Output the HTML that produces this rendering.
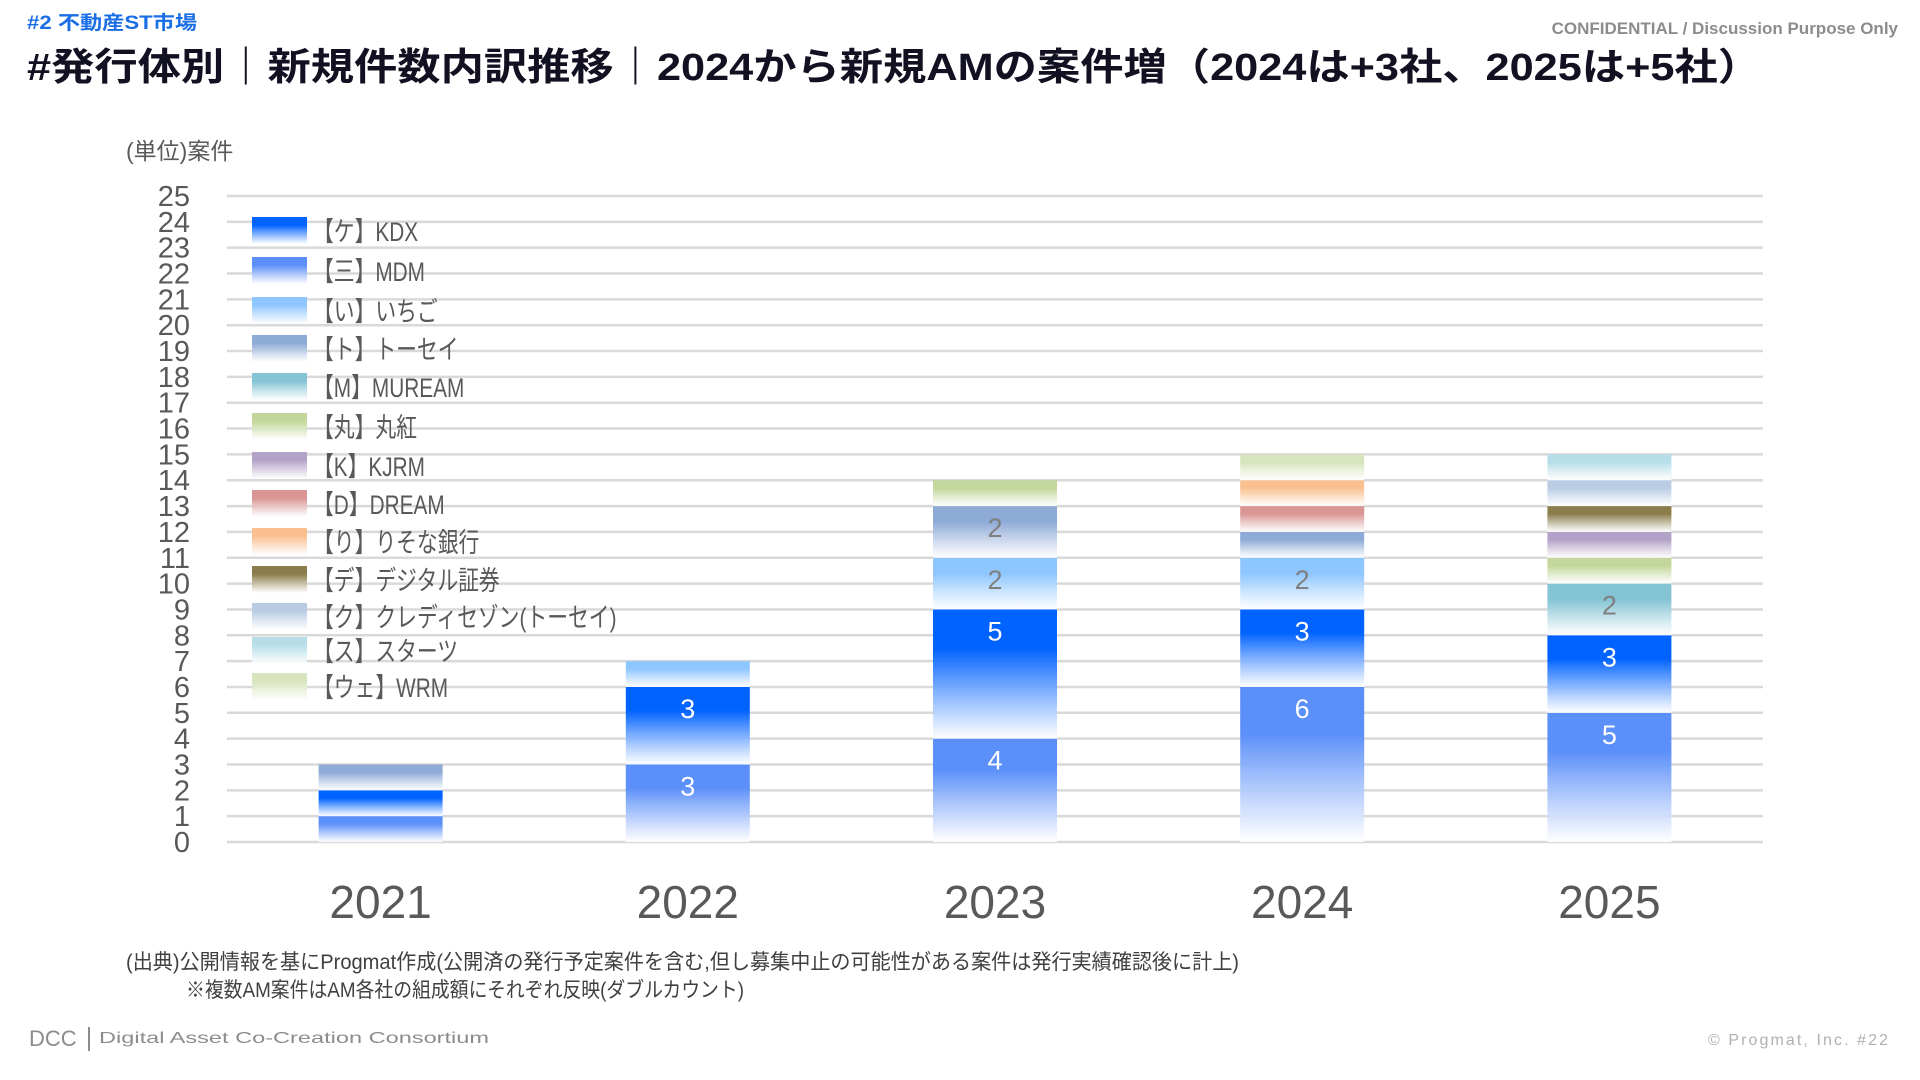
<!DOCTYPE html>
<html><head><meta charset="utf-8">
<style>
html,body{margin:0;padding:0;background:#fff;width:1920px;height:1080px;overflow:hidden}
svg{display:block}
text{font-family:"Liberation Sans","Noto Sans CJK JP",sans-serif}
</style></head>
<body>
<svg id="chart" width="1920" height="1080" viewBox="0 0 1920 1080">
<defs id="defs"></defs>
<text x="27" y="29" font-size="19" font-weight="bold" fill="#1a6ee6" textLength="170" lengthAdjust="spacingAndGlyphs">#2  不動産ST市場</text>
<text x="1898" y="34" font-size="17" font-weight="bold" fill="#8c8c8c" text-anchor="end">CONFIDENTIAL / Discussion Purpose Only</text>
<text x="27" y="80" font-size="38" font-weight="bold" fill="#111122" textLength="1734" lengthAdjust="spacingAndGlyphs">#発行体別｜新規件数内訳推移｜2024から新規AMの案件増（2024は+3社、2025は+5社）</text>
<text x="126" y="159" font-size="23" fill="#595959">(単位)案件</text>
<g id="grid"></g>
<g id="bars"></g>
<g id="legend"></g>
<g id="xlabels"></g>
<text x="126" y="969" font-size="21" fill="#404040" textLength="1113" lengthAdjust="spacingAndGlyphs">(出典)公開情報を基にProgmat作成(公開済の発行予定案件を含む,但し募集中止の可能性がある案件は発行実績確認後に計上)</text>
<text x="186" y="997" font-size="21" fill="#404040" textLength="558" lengthAdjust="spacingAndGlyphs">※複数AM案件はAM各社の組成額にそれぞれ反映(ダブルカウント)</text>
<text x="29" y="1046" font-size="22" fill="#8c8c8c">DCC</text>
<rect x="88" y="1027" width="2" height="24" fill="#8c8c8c"></rect>
<text x="99" y="1043" font-size="16" fill="#8c8c8c" font-family="Liberation Mono" textLength="390" lengthAdjust="spacingAndGlyphs">Digital Asset Co-Creation Consortium</text>
<text x="1708" y="1045" font-size="16" fill="#b0b0b0" textLength="180" lengthAdjust="spacing">© Progmat, Inc.    #22</text>
</svg>
<script>
const years = ["2021","2022","2023","2024","2025"];
const seriesNames = ["【三】MDM","【ケ】KDX","【い】いちご","【ト】トーセイ","【M】MUREAM","【丸】丸紅","【K】KJRM","【D】DREAM","【り】りそな銀行","【デ】デジタル証券","【ク】クレディセゾン(トーセイ)","【ス】スターツ","【ウェ】WRM"];
const mdm = [1,3,4,6,5];
const kdx = [1,3,5,3,3];
const ichigo = [0,1,2,2,0];
const tosei = [1,0,2,1,0];
const muream = [0,0,0,0,2];
const marubeni = [0,0,1,0,1];
const kjrm = [0,0,0,0,1];
const dream = [0,0,0,1,0];
const resona = [0,0,0,1,0];
const digital = [0,0,0,0,1];
const credit = [0,0,0,0,1];
const starts = [0,0,0,0,1];
const wrm = [0,0,0,1,0];
const yTicks = [0,1,2,3,4,5,6,7,8,9,10,11,12,13,14,15,16,17,18,19,20,21,22,23,24,25];

const seriesValues = [mdm,kdx,ichigo,tosei,muream,marubeni,kjrm,dream,resona,digital,credit,starts,wrm];
const colors = ["#5b8ff9","#0062ff","#8ec6ff","#8eaad6","#84c4d4","#c3d69b","#b3a2c7","#d99694","#fac090","#8b7d4b","#b9cce4","#b7dee8","#d7e4bd"];
const whiteLabel = [true,true,false,false,false,false,false,false,false,false,false,false,false];
const legendOrder = [1,0,2,3,4,5,6,7,8,9,10,11,12];
const legendY = [217,257,297,335,373,413,452,490,528,566,603,637,673];

const NS="http://www.w3.org/2000/svg";
const X0=227,X1=1763,Y0=842,YMAX=25,YTOP=196,BW=124;
function yS(v){return Y0-(Y0-YTOP)*v/YMAX;}
function xC(i){const bw=(X1-X0)/years.length;return X0+bw*(i+0.5);}
function mk(tag,attrs,parent){const e=document.createElementNS(NS,tag);for(const k in attrs)e.setAttribute(k,attrs[k]);parent.appendChild(e);return e;}

const defs=document.getElementById('defs');
colors.forEach((c,i)=>{
  const g=mk('linearGradient',{id:'g'+i,x1:0,y1:0,x2:0,y2:1},defs);
  mk('stop',{offset:'0','stop-color':c},g);
  mk('stop',{offset:'0.3','stop-color':c},g);
  mk('stop',{offset:'1','stop-color':'#ffffff','stop-opacity':'0.9'},g);
});

const grid=document.getElementById('grid');
yTicks.forEach(t=>{
  const l=mk('line',{x1:X0,x2:X1,y1:yS(t),y2:yS(t),stroke:'#d9d9d9','stroke-width':2.5},grid);
  
  
  const tx=mk('text',{x:190,y:yS(t)+10,'font-size':29,fill:'#595959','text-anchor':'end'},grid);
  tx.textContent=t;
  
  
});

const bars=document.getElementById('bars');
years.forEach((yr,i)=>{
  let base=0;
  seriesValues.forEach((arr,s)=>{
    const v=arr[i];
    if(!v)return;
    const top=yS(base+v),bot=yS(base);
    const r=mk('rect',{x:xC(i)-BW/2,y:top,width:BW,height:bot-top,fill:'url(#g'+s+')'},bars);
    
    
    if(v>=2){
      const t=mk('text',{x:xC(i),y:top+31,'font-size':27,fill:whiteLabel[s]?'#ffffff':'#7f7f7f','text-anchor':'middle'},bars);
      t.textContent=v;
      
      
    }
    base+=v;
  });
  const xl=mk('text',{x:xC(i),y:918,'font-size':46,fill:'#595959','text-anchor':'middle'},document.getElementById('xlabels'));
  xl.textContent=yr;
  
  
});

const leg=document.getElementById('legend');
legendOrder.forEach((s,k)=>{
  const y=legendY[k];
  const r=mk('rect',{x:252,y:y,width:55,height:27,fill:'url(#g'+s+')'},leg);
  
  
  const t=mk('text',{x:313,y:y+24,'font-size':27,fill:'#595959'},leg);
  t.textContent=seriesNames[s];
  
  
  const w=t.getComputedTextLength();
  if(w>0){t.setAttribute('textLength',(w*0.77).toFixed(1));t.setAttribute('lengthAdjust','spacingAndGlyphs');}
});
</script>
</body></html>
